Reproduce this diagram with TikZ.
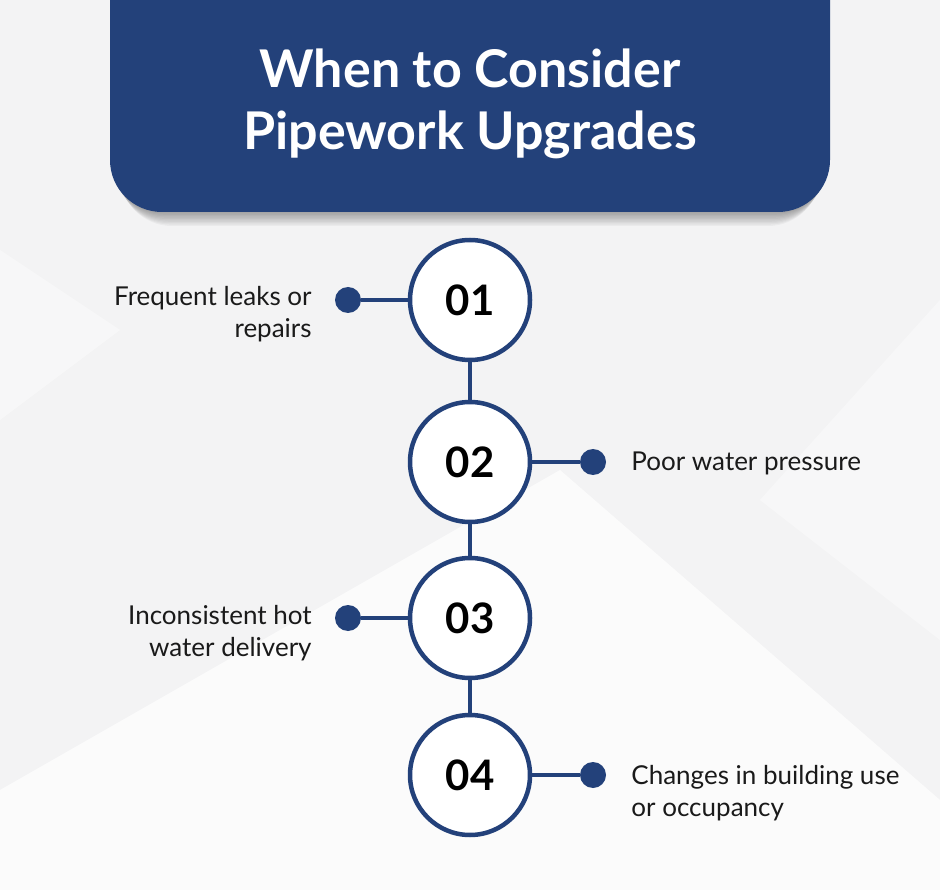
\documentclass[tikz,border=0pt]{standalone}
\usepackage{fontspec}
\setmainfont{Lato}
\usetikzlibrary{positioning}

\definecolor{navy}{RGB}{35,65,122}
\definecolor{ink}{RGB}{26,26,26}
\definecolor{paper}{RGB}{243,243,244}

\tikzset{
    stepcircle/.style={circle, draw=navy, line width=4.5pt, fill=white, minimum size=120pt,
        inner sep=0pt, font=\fontsize{42}{42}\selectfont\bfseries, text=black},
    pin/.style={circle, fill=navy, minimum size=26pt, inner sep=0pt},
    link/.style={draw=navy, line width=4.5pt},
    lbl/.style={font=\fontsize{26}{32}\selectfont, text=ink, inner sep=0pt}
}

\begin{document}
\begin{tikzpicture}[x=1pt, y=-1pt]
    \useasboundingbox (0,0) rectangle (940,890);
    % Background
    \fill[paper] (0,0) rectangle (940,890);
    \fill[white, opacity=0.7] (0,790) -- (560,470) -- (940,800) -- (940,890) -- (0,890) -- cycle;
    \fill[white, opacity=0.4] (0,250) -- (120,330) -- (0,420) -- cycle;
    \fill[white, opacity=0.4] (940,300) -- (760,500) -- (940,640) -- cycle;

    % Header with soft shadow
    \foreach \s in {1,...,10}
        \fill[black, opacity=0.035, rounded corners=52pt]
            (110+\s,-80) rectangle (830-\s,212+1.4*\s);
    \fill[navy, rounded corners=52pt] (110,-80) rectangle (830,212);
    \node[font=\fontsize{52}{62}\selectfont\bfseries, text=white, align=center, anchor=base]
        (title) at (470,150) {When to Consider\\Pipework Upgrades};

    % Steps
    \node[stepcircle] (s1) at (470,300) {01};
    \node[stepcircle] (s2) at (470,462) {02};
    \node[stepcircle] (s3) at (470,618) {03};
    \node[stepcircle] (s4) at (470,775) {04};
    \draw[link] (s1) -- (s2);
    \draw[link] (s2) -- (s3);
    \draw[link] (s3) -- (s4);

    % Pins
    \node[pin] (d1) at (348,300) {};
    \node[pin] (d2) at (593,462) {};
    \node[pin] (d3) at (348,618) {};
    \node[pin] (d4) at (593,775) {};
    \draw[link] (d1) -- (s1);
    \draw[link] (d2) -- (s2);
    \draw[link] (d3) -- (s3);
    \draw[link] (d4) -- (s4);

    % Labels
    \node[lbl, align=right, anchor=base east] (t1) at ([xshift=-23pt, yshift=-38pt]d1.west) {Frequent leaks or\\repairs};
    \node[lbl, anchor=base west] (t2) at ([xshift=25pt, yshift=-9pt]d2.east) {Poor water pressure};
    \node[lbl, align=right, anchor=base east] (t3) at ([xshift=-23pt, yshift=-38pt]d3.west) {Inconsistent hot\\water delivery};
    \node[lbl, align=left, anchor=base west] (t4) at ([xshift=25pt, yshift=-41pt]d4.east) {Changes in building use\\or occupancy};
\end{tikzpicture}
\end{document}
